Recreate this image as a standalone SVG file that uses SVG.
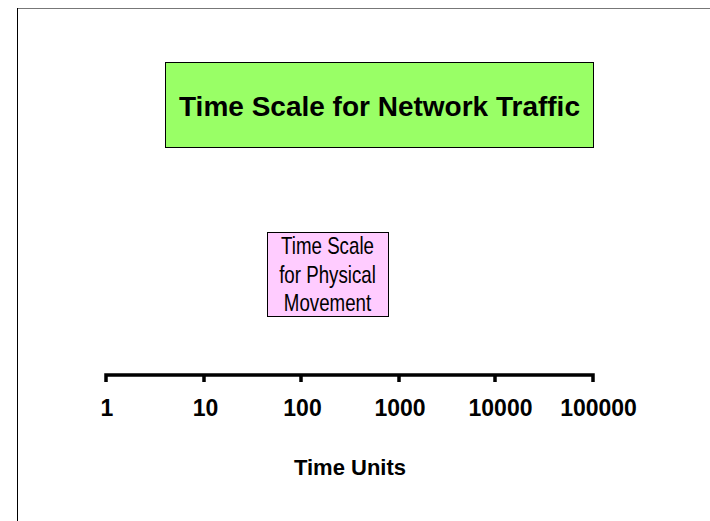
<svg xmlns="http://www.w3.org/2000/svg" width="710" height="521" viewBox="0 0 710 521">
<style>
.bold{font-family:"Liberation Sans",Arial,sans-serif;font-weight:bold;fill:#000;text-anchor:middle}
.narrow{font-family:"Liberation Sans",Arial,sans-serif;font-size:24px;fill:#000;text-anchor:middle}
.axis{stroke:#000;stroke-width:3.5;fill:none}
</style>
<rect x="0" y="0" width="710" height="521" fill="#fff"/>
<g id="frame">
<line x1="17" y1="8.5" x2="710" y2="8.5" stroke="#777" stroke-width="1"/>
<line x1="17.5" y1="8" x2="17.5" y2="521" stroke="#000" stroke-width="1"/>
</g>
<g id="network-traffic">
<rect x="165.5" y="62.5" width="428" height="85" fill="#99FF66" stroke="#000" stroke-width="1"/>
<text class="bold" x="379.5" y="116" font-size="28">Time Scale for Network Traffic</text>
</g>
<g id="physical-movement">
<rect x="267.5" y="232.5" width="121" height="84" fill="#FFCCFF" stroke="#000" stroke-width="1"/>
<g transform="translate(327.5,0) scale(0.78,1)">
<text class="narrow" x="0" y="254.5">Time Scale</text>
<text class="narrow" x="0" y="283">for Physical</text>
<text class="narrow" x="0" y="311.5">Movement</text>
</g>
</g>
<g id="axis">
<path class="axis" d="M106 382 V375 H593 V382 M204 375 V382 M301 375 V382 M399 375 V382 M495 375 V382"/>
<g class="bold" font-size="23">
<text x="107" y="416">1</text>
<text x="205.5" y="416">10</text>
<text x="302.5" y="416">100</text>
<text x="400" y="416">1000</text>
<text x="500.5" y="416">10000</text>
<text x="598.5" y="416">100000</text>
</g>
<text class="bold" x="350" y="475" font-size="22">Time Units</text>
</g>
</svg>
